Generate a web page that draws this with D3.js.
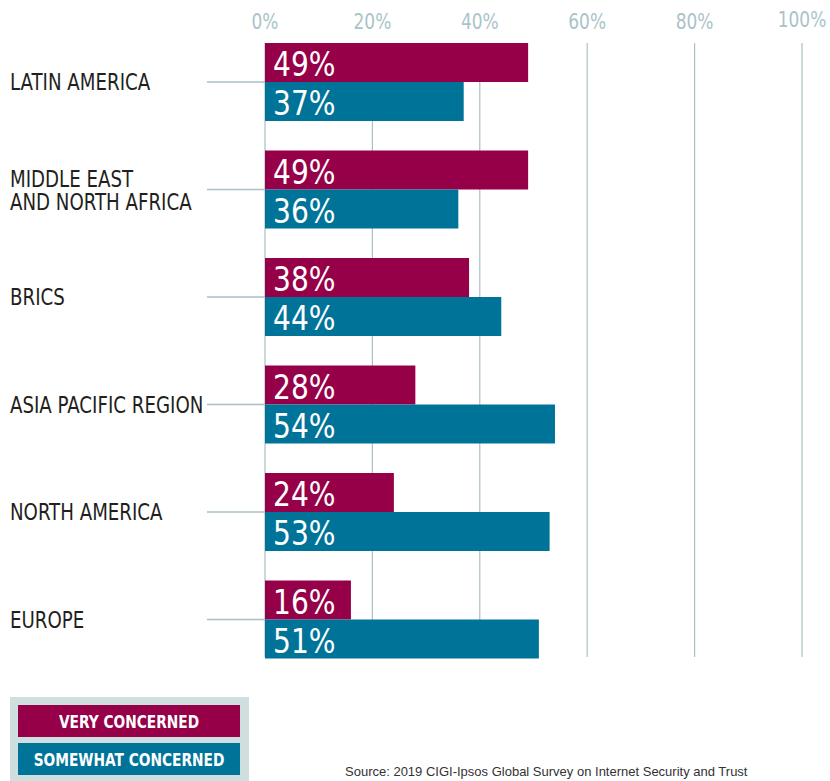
<!DOCTYPE html>
<html>
<head>
<meta charset="utf-8">
<script src="https://cdn.jsdelivr.net/npm/d3@7"></script>
<style>
  body { margin: 0; background: #fff; }
  svg { display: block; }
</style>
</head>
<body>
<svg width="830" height="781"></svg>
<script>
// regions, top to bottom
const regions = ["LATIN AMERICA", "MIDDLE EAST|AND NORTH AFRICA", "BRICS", "ASIA PACIFIC REGION", "NORTH AMERICA", "EUROPE"];
const veryConcerned = [49, 49, 38, 28, 24, 16];
const somewhatConcerned = [37, 36, 44, 54, 53, 51];
const ticks = [0, 20, 40, 60, 80, 100];
const legendLabels = ["VERY CONCERNED", "SOMEWHAT CONCERNED"];
const colors = ["#960048", "#007399"];

const condensed = "'DejaVu Sans Condensed', 'Liberation Sans Narrow', sans-serif";

const svg = d3.select("svg");

const xScale = d3.scaleLinear()
  .domain([0, 100])
  .range([265, 802]);

// one band per region, each band holds two bars
const yScale = d3.scaleBand()
  .domain(regions)
  .range([43, 688])
  .paddingInner(0)
  .paddingOuter(0);

const barH = 39;

// squeeze text horizontally (the original uses a condensed face)
function place(sel, x, y, sx) {
  return sel.attr("transform", "translate(" + x + "," + y + ") scale(" + sx + ",1)");
}

// gridlines
svg.append("g")
  .selectAll("line")
  .data(ticks)
  .join("line")
  .attr("x1", d => xScale(d))
  .attr("x2", d => xScale(d))
  .attr("y1", 43)
  .attr("y2", 657)
  .attr("stroke", "#a9c0c4")
  .attr("stroke-width", 1.2);

// tick labels on top
svg.append("g")
  .selectAll("text")
  .data(ticks)
  .join("text")
  .attr("transform", d => "translate(" + xScale(d) + "," + (d == 100 ? 27 : 29) + ") scale(0.9,1)")
  .attr("text-anchor", "middle")
  .attr("font-family", condensed)
  .attr("font-size", 21)
  .attr("fill", "#a9c3c8")
  .text(d => d + "%");

const rows = regions.map((r, i) => ({ name: r, i: i, very: veryConcerned[i], some: somewhatConcerned[i] }));

// connector lines between label and bars
svg.append("g")
  .selectAll("line")
  .data(rows)
  .join("line")
  .attr("x1", 207)
  .attr("x2", xScale(0))
  .attr("y1", d => yScale(regions[d.i]) + barH)
  .attr("y2", d => yScale(regions[d.i]) + barH)
  .attr("stroke", "#a9c0c4")
  .attr("stroke-width", 1.5);

// bars
const g = svg.append("g");
[veryConcerned, somewhatConcerned].forEach((series, s) => {
  g.selectAll(".bar" + s)
    .data(series)
    .join("rect")
    .attr("class", "bar" + s)
    .attr("x", xScale(0))
    .attr("y", (d, i) => yScale(regions[i]) + s * barH)
    .attr("width", d => xScale(d) - xScale(0))
    .attr("height", barH)
    .attr("fill", colors[s]);

  g.selectAll(".val" + s)
    .data(series)
    .join("text")
    .attr("class", "val" + s)
    .attr("transform", (d, i) => "translate(" + (xScale(0) + 8) + "," + (yScale(regions[i]) + s * barH + 33) + ") scale(0.92,1)")
    .attr("font-family", condensed)
    .attr("font-size", 34)
    .attr("fill", "#fff")
    .text(d => d + "%");
});

// region labels
svg.append("g")
  .selectAll("text")
  .data(rows)
  .join("text")
  .attr("font-family", condensed)
  .attr("font-size", 23)
  .attr("fill", "#231f20")
  .each(function(d) {
    const parts = d.name.split("|");
    const mid = yScale(regions[d.i]) + barH;
    const y0 = parts.length == 1 ? mid + 8 : mid - 3;
    const t = d3.select(this);
    place(t, 10, y0, 0.88);
    parts.forEach((p, k) => {
      t.append("tspan")
        .attr("x", 0)
        .attr("y", k * 24)
        .text(p);
    });
  });

// legend
const leg = svg.append("g");
leg.append("rect")
  .attr("x", 10).attr("y", 697)
  .attr("width", 239).attr("height", 90)
  .attr("fill", "#cfdfe0");

leg.selectAll(".key")
  .data(legendLabels)
  .join("rect")
  .attr("class", "key")
  .attr("x", 18)
  .attr("y", (d, i) => 705 + i * 38)
  .attr("width", 222)
  .attr("height", 32)
  .attr("fill", (d, i) => colors[i]);

leg.selectAll(".keytext")
  .data(legendLabels)
  .join("text")
  .attr("class", "keytext")
  .attr("transform", (d, i) => "translate(129," + (705 + i * 38 + 23) + ") scale(0.85,1)")
  .attr("text-anchor", "middle")
  .attr("font-family", condensed)
  .attr("font-weight", "bold")
  .attr("font-size", 18)
  .attr("fill", "#fff")
  .text(d => d);

// source note
svg.append("text")
  .attr("x", 345)
  .attr("y", 776)
  .attr("font-family", "'Liberation Sans', Arial, sans-serif")
  .attr("font-size", 13)
  .attr("fill", "#333")
  .text("Source: 2019 CIGI-Ipsos Global Survey on Internet Security and Trust");
</script>
</body>
</html>
